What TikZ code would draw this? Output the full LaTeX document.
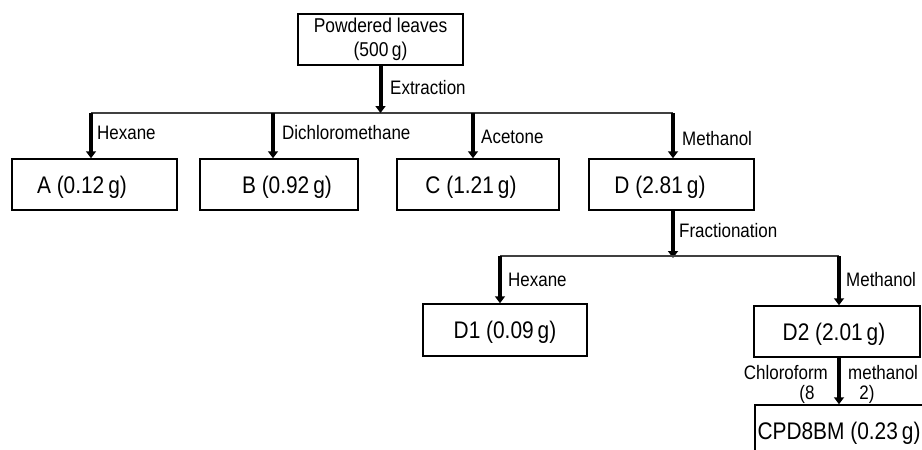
\documentclass[tikz,border=0pt]{standalone}
\usepackage{fontspec}
\setmainfont[FakeStretch=0.87]{Liberation Sans}
\usetikzlibrary{arrows.meta}
\begin{document}
\begin{tikzpicture}[x=1pt,y=-1pt,
  box/.style={draw=black,line width=1.5pt,minimum height=51pt,inner sep=0pt,text height=17pt,text depth=0pt,font=\fontsize{24}{28}\selectfont},
  lab/.style={anchor=west,inner sep=0pt,font=\fontsize{19.5}{22}\selectfont},
  arr/.style={line width=4pt,-{Triangle[width=10pt,length=7pt]}},
  hline/.style={line width=1.5pt,black!75}]
\useasboundingbox (0,0) rectangle (922,450);
\clip (0,0) rectangle (922,450);
% nodes
\node[box,minimum width=165pt,align=center,text height=,text depth=,font=\fontsize{20}{24}\selectfont] (top) at (380.5,39.5) {Powdered leaves\\(500\,g)};
\node[box,minimum width=165pt] (A) at (94.5,184.5) {\hspace*{-25pt}A (0.12\,g)};
\node[box,minimum width=158pt] (B) at (279,184.5) {\hspace*{16pt}B (0.92\,g)};
\node[box,minimum width=162pt] (C) at (478,184.5) {\hspace*{-14pt}C (1.21\,g)};
\node[box,minimum width=165pt] (D) at (671.5,184.5) {\hspace*{-23pt}D (2.81\,g)};
\node[box,minimum width=164pt,minimum height=52pt] (D1) at (505,330) {D1 (0.09\,g)};
\node[box,minimum width=166pt] (D2) at (837,331.5) {\hspace*{-6pt}D2 (2.01\,g)};
\node[box,minimum width=168pt,minimum height=52pt] (CPD) at (839,431) {CPD8BM (0.23\,g)};
% coordinates
\coordinate (hA) at (91,113);
\coordinate (hB) at (273,113);
\coordinate (hC) at (473,113);
\coordinate (hD) at (673,113);
\coordinate (fD) at (673,210);
\coordinate (h1) at (500,256);
\coordinate (h2) at (839,256);
% connectors
\draw[hline] (hA) -- (hD);
\draw[arr] (top.south) -- (top.south |- hA);
\draw[arr] (hA) -- (hA |- A.north);
\draw[arr] (hB) -- (hB |- B.north);
\draw[arr] (hC) -- (hC |- C.north);
\draw[arr] (hD) -- (hD |- D.north);
\draw[arr] (fD) -- ([yshift=-2pt]fD |- h1);
\draw[hline] (h1) -- (h2);
\draw[arr] (h1) -- (h1 |- D1.north);
\draw[arr] (h2) -- (h2 |- D2.north);
\draw[arr] (D2.south -| h2) -- (h2 |- CPD.north);
% labels
\node[lab] (lext) at (390,88) {Extraction};
\node[lab] (lhex) at (97,133) {Hexane};
\node[lab] (ldcm) at (282,133) {Dichloromethane};
\node[lab] (lace) at (481,137) {Acetone};
\node[lab] (lmet) at (682,139) {Methanol};
\node[lab] (lfrac) at (679,231) {Fractionation};
\node[lab] (lhex2) at (508,280) {Hexane};
\node[lab] (lmet2) at (846,280) {Methanol};
\node[lab,anchor=east] (lchl) at (828,373) {Chloroform};
\node[lab,anchor=center] (l8) at (807,394) {(8};
\node[lab] (lmeth) at (848,373) {methanol};
\node[lab,anchor=center] (l2) at (867,394) {2)};
\end{tikzpicture}
\end{document}
